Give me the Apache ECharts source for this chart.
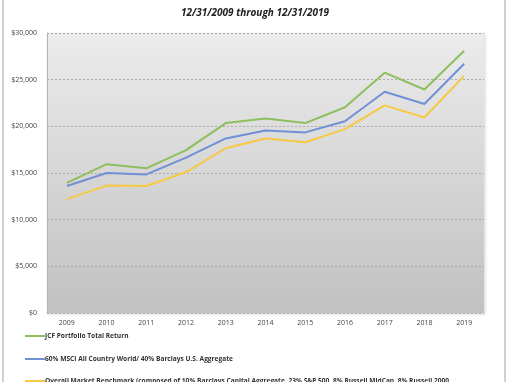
<!DOCTYPE html>
<html>
<head>
<meta charset="utf-8">
<script src="https://cdn.jsdelivr.net/npm/echarts@6/dist/echarts.min.js"></script>
<style>html,body{margin:0;padding:0;background:#fff;}#c{width:510px;height:382px;}</style>
</head>
<body>
<div id="c"></div>
<script>
var years = ['2009','2010','2011','2012','2013','2014','2015','2016','2017','2018','2019'];
var jcfPortfolio = [13950, 15950, 15500, 17450, 20350, 20850, 20350, 22050, 25750, 23950, 28100];
var msciBarclays = [13600, 15000, 14850, 16650, 18700, 19550, 19350, 20550, 23700, 22400, 26700];
var marketBenchmark = [12200, 13650, 13600, 15100, 17650, 18700, 18300, 19700, 22250, 20950, 25400];
var seriesNames = [
  'JCF Portfolio Total Return',
  '60% MSCI All Country World/ 40% Barclays U.S. Aggregate',
  'Overall Market Benchmark (composed of 10% Barclays Capital Aggregate, 23% S&P 500, 8% Russell MidCap, 8% Russell 2000'
];
var titleText = '12/31/2009 through 12/31/2019';

var chart = echarts.init(document.getElementById('c'), null, {renderer: 'canvas'});
var font = '"Open Sans", "Liberation Sans", sans-serif';
var colors = ['#8dbf5f', '#7090d6', '#f6c944'];
var legendTops = [331, 354, 376];

function makeLegend(i) {
  return {
    orient: 'vertical',
    left: 25,
    top: legendTops[i],
    itemWidth: 20,
    itemHeight: 2,
    icon: 'rect',
    padding: 0,
    textStyle: {fontSize: 6.6, fontWeight: 'bold', color: '#333', lineHeight: 10, padding: [0, 0, 0, -5]},
    data: [seriesNames[i]]
  };
}

chart.setOption({
  animation: false,
  color: colors,
  textStyle: {fontFamily: font},
  title: {
    text: titleText,
    left: 'center',
    top: 3,
    textStyle: {fontSize: 10, fontWeight: 'bold', fontStyle: 'italic', color: '#222', fontFamily: font}
  },
  graphic: [{
    type: 'rect',
    shape: {x: 3, y: -10, width: 502, height: 410},
    style: {fill: 'none', stroke: '#cfcfcf', lineWidth: 2},
    z: -10
  }],
  legend: [makeLegend(0), makeLegend(1), makeLegend(2)],
  grid: {
    left: 47, right: 26, top: 33, bottom: 69,
    show: true,
    borderWidth: 0,
    backgroundColor: new echarts.graphic.LinearGradient(0, 0, 0, 1, [
      {offset: 0, color: '#ececec'},
      {offset: 1, color: '#c1c1c1'}
    ]),
    shadowColor: 'rgba(0,0,0,0.18)',
    shadowBlur: 3,
    shadowOffsetX: 1,
    shadowOffsetY: 1
  },
  xAxis: {
    type: 'category',
    data: years,
    boundaryGap: true,
    axisLine: {show: false},
    axisTick: {show: false},
    axisLabel: {fontSize: 7, color: '#444', margin: 6}
  },
  yAxis: {
    type: 'value',
    min: 0, max: 30000, interval: 5000,
    axisLine: {show: true, lineStyle: {color: '#b4b4b4', width: 1}},
    axisTick: {show: false},
    axisLabel: {
      fontSize: 7, color: '#444', margin: 10,
      formatter: function (v) { return '$' + v.toLocaleString('en-US'); }
    },
    splitLine: {lineStyle: {color: '#a9a9a9', type: [2, 2], width: 1}}
  },
  series: [
    {name: seriesNames[0], type: 'line', data: jcfPortfolio, symbol: 'none', lineStyle: {width: 2}},
    {name: seriesNames[1], type: 'line', data: msciBarclays, symbol: 'none', lineStyle: {width: 2}},
    {name: seriesNames[2], type: 'line', data: marketBenchmark, symbol: 'none', lineStyle: {width: 2}}
  ]
});
</script>
</body>
</html>
